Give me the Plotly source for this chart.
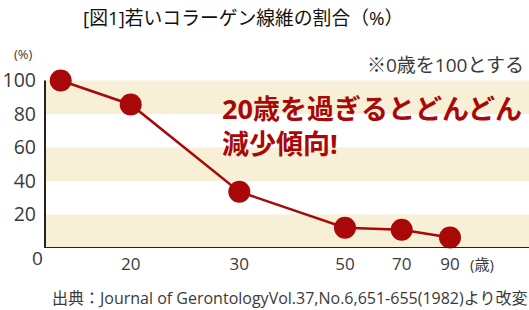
import plotly.graph_objects as go

ages = [0, 20, 30, 50, 70, 90]
# position of each age along the (non-uniform) horizontal scale of the chart
age_slot = [1.57, 8.57, 19.43, 30.0, 35.67, 40.5]
ratio = [100, 85.7, 33.6, 12.1, 10.9, 6.3]
y_ticks = [20, 40, 60, 80, 100]
bands = [(80, 100), (40, 60), (0, 20)]

FONT = "Open Sans, Noto Sans CJK JP"
RED = "#a80808"
GRAY = "#3a3a3a"

fig = go.Figure()
fig.add_trace(go.Scatter(
    x=age_slot, y=ratio, mode="lines+markers",
    line=dict(color=RED, width=2.5),
    marker=dict(color=RED, size=22),
    cliponaxis=False, showlegend=False, hoverinfo="skip",
))

shapes = []
for y0, y1 in bands:
    shapes.append(dict(type="rect", xref="paper", yref="y", x0=0, x1=1, y0=y0, y1=y1,
                       fillcolor="#f7f0d6", line=dict(width=0), layer="below"))
shapes.append(dict(type="line", xref="paper", yref="y", x0=0, x1=0, y0=0, y1=100,
                   line=dict(color="#222", width=2)))
shapes.append(dict(type="line", xref="paper", yref="y", x0=0, x1=1, y0=0, y1=0,
                   line=dict(color="#222", width=2)))

annotations = [
    dict(text="[図1]若いコラーゲン線維の割合（%）", xref="paper", yref="paper",
         x=0.41, y=1.105, xanchor="center", yanchor="middle", showarrow=False,
         font=dict(family=FONT, size=18.8, color="#111")),
    dict(text="(%)", xref="paper", yref="paper", x=-0.045, y=0.935, xanchor="center", yanchor="middle",
         showarrow=False, font=dict(family=FONT, size=13, color=GRAY)),
    dict(text="0", xref="paper", yref="paper", x=-0.015, y=-0.05, xanchor="center", yanchor="middle",
         showarrow=False, font=dict(family=FONT, size=19, color=GRAY)),
    dict(text="(歳)", xref="paper", yref="paper", x=0.903, y=-0.075, xanchor="center", yanchor="middle",
         showarrow=False, font=dict(family=FONT, size=15, color=GRAY)),
    dict(text="※0歳を100とする", xref="paper", yref="y", x=0.993, y=109, xanchor="right", yanchor="middle",
         showarrow=False, font=dict(family=FONT, size=19, color=GRAY)),
    dict(text="20歳を過ぎるとどんどん<br>減少傾向!", xref="paper", yref="y", x=0.362, y=95.5,
         xanchor="left", yanchor="top", align="left", showarrow=False,
         font=dict(family=FONT, size=27, color=RED, weight="bold")),
    dict(text="出典：Journal of GerontologyVol.37,No.6,651-655(1982)より改変", xref="paper", yref="paper",
         x=1.0, y=-0.24, xanchor="right", yanchor="middle", showarrow=False,
         font=dict(family=FONT, size=16, color=GRAY)),
]

fig.update_layout(
    width=529, height=310,
    margin=dict(l=45, r=0, t=40, b=62),
    paper_bgcolor="white", plot_bgcolor="white",
    shapes=shapes, annotations=annotations,
    xaxis=dict(range=[0, 48.4], tickvals=age_slot[1:], ticktext=[str(a) for a in ages[1:]],
               showgrid=False, zeroline=False, showline=False, ticks="", ticklabelstandoff=4,
               tickfont=dict(family=FONT, size=17, color=GRAY), fixedrange=True),
    yaxis=dict(range=[0, 124.2], tickvals=y_ticks, ticktext=[str(v) for v in y_ticks],
               showgrid=False, zeroline=False, showline=False, ticks="", ticklabelstandoff=8,
               tickfont=dict(family=FONT, size=19.5, color=GRAY), fixedrange=True),
)

fig.write_html("out.html")
